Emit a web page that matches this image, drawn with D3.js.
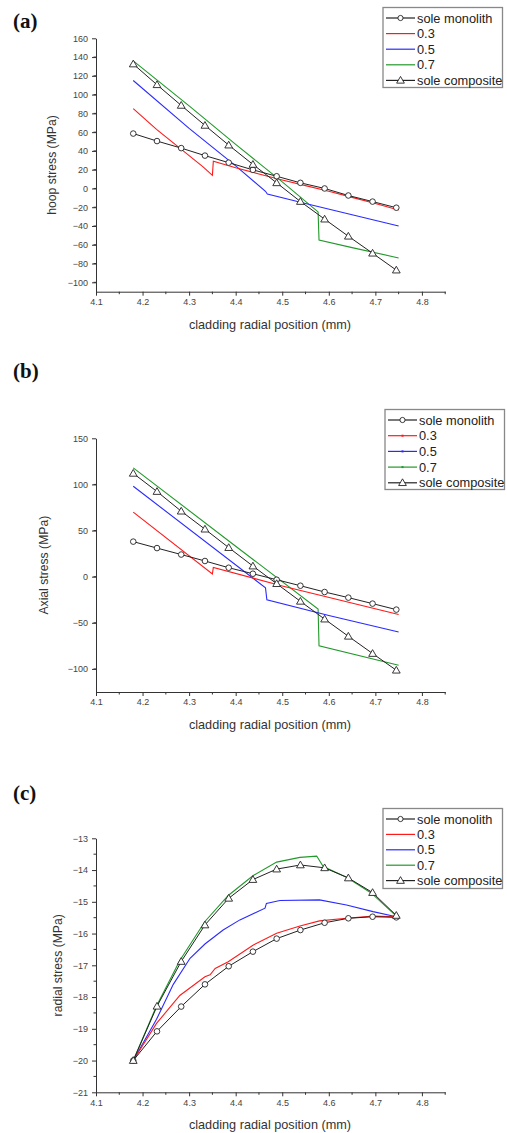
<!DOCTYPE html>
<html>
<head>
<meta charset="utf-8">
<script src="https://cdn.jsdelivr.net/npm/d3@7"></script>
<style>
body { margin: 0; background: #fff; }
svg { display: block; font-family: Arial, "Liberation Sans", sans-serif; }
.tick text { fill: #444; font-size: 9px; font-family: Arial, "Liberation Sans", sans-serif; }
.axis path, .axis line { stroke: #333; }
</style>
</head>
<body>
<svg width="507" height="1133"></svg>
<script>
// marker positions shared by the two sole cases (mm)
var xPos = [4.18, 4.231, 4.283, 4.334, 4.385, 4.437, 4.488, 4.539, 4.591, 4.642, 4.694, 4.745];
var seriesNames = ["sole monolith", "0.3", "0.5", "0.7", "sole composite"];
var xTicks = [4.1, 4.2, 4.3, 4.4, 4.5, 4.6, 4.7, 4.8];

// (a) hoop stress
var hoopMono = [58.5, 50.5, 43, 35, 27.5, 19.8, 13, 6, 0, -7.5, -14, -20.5];
var hoopComp = [132.6, 110.5, 88.5, 67.2, 46.2, 25.6, 6, -13.9, -32.7, -50.9, -69, -87];
var hoop03x = [4.18, 4.23, 4.28, 4.33, 4.35, 4.352, 4.4, 4.45, 4.5, 4.55, 4.6, 4.65, 4.7, 4.75];
var hoop03 = [85, 63, 43, 23, 14, 29, 22, 15.5, 9, 3, -3, -9.5, -16, -23];
var hoop05x = [4.18, 4.3, 4.4, 4.464, 4.468, 4.55, 4.65, 4.75];
var hoop05 = [115, 64, 24, -3, -6, -16, -28, -40];
var hoop07x = [4.18, 4.3, 4.4, 4.5, 4.577, 4.579, 4.65, 4.75];
var hoop07 = [136, 88, 47, 7, -25, -55, -63, -74];
var hoopTicks = [-100, -80, -60, -40, -20, 0, 20, 40, 60, 80, 100, 120, 140, 160];

// (b) axial stress
var axMono = [38, 31, 24, 17, 9.7, 3.2, -3.3, -9.8, -16.6, -22.7, -29.2, -35.7];
var axComp = [112, 92.3, 71, 51.5, 31.5, 11.5, -7.6, -26.7, -46, -64.6, -83.3, -101.4];
var ax03x = [4.18, 4.35, 4.352, 4.5, 4.75];
var ax03 = [70, 3, 10, -10, -41];
var ax05x = [4.18, 4.464, 4.467, 4.6, 4.75];
var ax05 = [98, -12, -25, -42, -60];
var ax07x = [4.18, 4.4, 4.577, 4.579, 4.75];
var ax07 = [118, 33, -35, -75, -96];
var axTicks = [-100, -50, 0, 50, 100, 150];

// (c) radial stress
var radMono = [-20, -19.08, -18.3, -17.6, -17.03, -16.57, -16.16, -15.89, -15.66, -15.52, -15.47, -15.49];
var radComp = [-20, -18.29, -16.88, -15.73, -14.89, -14.3, -13.97, -13.84, -13.93, -14.25, -14.71, -15.43];
var rad03x = [4.18, 4.23, 4.28, 4.334, 4.345, 4.356, 4.384, 4.438, 4.488, 4.538, 4.58, 4.638, 4.695, 4.745];
var rad03 = [-20, -18.83, -17.95, -17.36, -17.3, -17.1, -16.89, -16.36, -15.99, -15.76, -15.6, -15.52, -15.45, -15.47];
var rad05x = [4.18, 4.23, 4.266, 4.302, 4.334, 4.373, 4.409, 4.463, 4.466, 4.495, 4.58, 4.638, 4.695, 4.745];
var rad05 = [-20, -18.7, -17.6, -16.78, -16.33, -15.89, -15.57, -15.2, -15.05, -14.96, -14.94, -15.1, -15.31, -15.47];
var rad07x = [4.18, 4.23, 4.28, 4.334, 4.384, 4.437, 4.488, 4.538, 4.574, 4.588, 4.638, 4.691, 4.745];
var rad07 = [-20, -18.28, -16.85, -15.62, -14.8, -14.18, -13.75, -13.6, -13.56, -13.89, -14.23, -14.72, -15.45];
var radTicks = [-21, -20, -19, -18, -17, -16, -15, -14, -13];

var colors = {"0.3": "#ff1a1a", "0.5": "#2a2aff", "0.7": "#22992a"};

function zip(xs, ys) { return xs.map(function(d, i) { return [d, ys[i]]; }); }

var panels = [
  {tag: "(a)", tagY: 28, top: 38.3, bottom: 291.7, domain: [-110, 160], ticks: hoopTicks, minor: 10,
   ylabel: "hoop stress (MPa)", ylabelX: 52, legend: [383, 7.5, 15.6], dots: false,
   mono: hoopMono, comp: hoopComp,
   lines: [zip(hoop03x, hoop03), zip(hoop05x, hoop05), zip(hoop07x, hoop07)]},
  {tag: "(b)", tagY: 378, top: 438.3, bottom: 692, domain: [-125, 150], ticks: axTicks, minor: 25,
   ylabel: "Axial stress (MPa)", ylabelX: 44, legend: [385, 409.5, 15.7], dots: true,
   mono: axMono, comp: axComp,
   lines: [zip(ax03x, ax03), zip(ax05x, ax05), zip(ax07x, ax07)]},
  {tag: "(c)", tagY: 800, top: 838.3, bottom: 1092.3, domain: [-21, -13], ticks: radTicks, minor: 0.5,
   ylabel: "radial stress (MPa)", ylabelX: 58, legend: [383, 808.5, 15.4], dots: false,
   mono: radMono, comp: radComp,
   lines: [zip(rad03x, rad03), zip(rad05x, rad05), zip(rad07x, rad07)]}
];

var svg = d3.select("svg");
var x = d3.scaleLinear().domain([4.1, 4.85]).range([96, 445.2]);

var triangle = d3.symbol().type(d3.symbolTriangle).size(26);

panels.forEach(function(p) {
  var y = d3.scaleLinear().domain(p.domain).range([p.bottom, p.top]);
  var g = svg.append("g");

  g.append("text").attr("x", 13).attr("y", p.tagY)
    .attr("font-family", "'Liberation Serif', 'Times New Roman', serif")
    .attr("font-weight", "bold").attr("font-size", 21).attr("fill", "#111")
    .text(p.tag);

  // minor ticks
  var xMinor = d3.range(4.15, 4.86, 0.1);
  g.selectAll(".xmin").data(xMinor).enter().append("line")
    .attr("x1", function(d) { return x(d); }).attr("x2", function(d) { return x(d); })
    .attr("y1", p.bottom).attr("y2", p.bottom + 2.5).attr("stroke", "#333");
  var yMinor = d3.range(p.domain[0] + p.minor, p.domain[1], p.minor * 2);
  g.selectAll(".ymin").data(yMinor).enter().append("line")
    .attr("x1", 96 - 2.5).attr("x2", 96)
    .attr("y1", function(d) { return y(d); }).attr("y2", function(d) { return y(d); })
    .attr("stroke", "#333");

  g.append("g").attr("class", "axis").attr("transform", "translate(0," + p.bottom + ")")
    .call(d3.axisBottom(x).tickValues(xTicks).tickSize(4).tickSizeOuter(0).tickPadding(3)
      .tickFormat(d3.format(".1f")));
  g.append("g").attr("class", "axis").attr("transform", "translate(96,0)")
    .call(d3.axisLeft(y).tickValues(p.ticks).tickSize(4).tickSizeOuter(0).tickPadding(4));

  g.append("text").attr("x", 270).attr("y", p.bottom + 37)
    .attr("text-anchor", "middle").attr("font-size", 12.7).attr("fill", "#333")
    .text("cladding radial position (mm)");
  g.append("text")
    .attr("transform", "translate(" + p.ylabelX + "," + ((p.top + p.bottom) / 2) + ") rotate(-90)")
    .attr("text-anchor", "middle").attr("dy", "0.35em").attr("font-size", 12.2).attr("fill", "#333")
    .text(p.ylabel);

  var line = d3.line().x(function(d) { return x(d[0]); }).y(function(d) { return y(d[1]); });

  // coloured cases
  ["0.7", "0.5", "0.3"].forEach(function(k) {
    var idx = ["0.3", "0.5", "0.7"].indexOf(k);
    g.append("path").datum(p.lines[idx]).attr("d", line)
      .attr("fill", "none").attr("stroke", colors[k]).attr("stroke-width", 1.1);
  });

  // sole cases with markers
  var mono = zip(xPos, p.mono), comp = zip(xPos, p.comp);
  g.append("path").datum(comp).attr("d", line).attr("fill", "none").attr("stroke", "#222").attr("stroke-width", 1);
  g.append("path").datum(mono).attr("d", line).attr("fill", "none").attr("stroke", "#222").attr("stroke-width", 1);
  g.selectAll(".mono").data(mono).enter().append("circle")
    .attr("cx", function(d) { return x(d[0]); }).attr("cy", function(d) { return y(d[1]); })
    .attr("r", 2.8).attr("fill", "#fff").attr("stroke", "#222").attr("stroke-width", 0.9);
  g.selectAll(".comp").data(comp).enter().append("path")
    .attr("transform", function(d) { return "translate(" + x(d[0]) + "," + (y(d[1]) + 0.6) + ")"; })
    .attr("d", triangle).attr("fill", "#fff").attr("stroke", "#222").attr("stroke-width", 0.9);

  // legend
  var lx = p.legend[0], ly = p.legend[1], step = p.legend[2];
  var lg = g.append("g");
  lg.append("rect").attr("x", lx).attr("y", ly).attr("width", 119.5).attr("height", 80)
    .attr("fill", "#fff").attr("stroke", "#888").attr("stroke-width", 1.3);
  seriesNames.forEach(function(name, i) {
    var cy = ly + 10.5 + i * step;
    var col = colors[name] || "#222";
    lg.append("line").attr("x1", lx + 3).attr("x2", lx + 32).attr("y1", cy).attr("y2", cy)
      .attr("stroke", col).attr("stroke-width", 1.2);
    if (name === "sole monolith") {
      lg.append("circle").attr("cx", lx + 17.5).attr("cy", cy).attr("r", 2.6)
        .attr("fill", "#fff").attr("stroke", "#222").attr("stroke-width", 0.9);
    } else if (name === "sole composite") {
      lg.append("path").attr("transform", "translate(" + (lx + 17.5) + "," + (cy + 0.5) + ")")
        .attr("d", triangle).attr("fill", "#fff").attr("stroke", "#222").attr("stroke-width", 0.9);
    } else if (p.dots) {
      lg.append("rect").attr("x", lx + 16.5).attr("y", cy - 1).attr("width", 2).attr("height", 2).attr("fill", col);
    }
    lg.append("text").attr("x", lx + 34).attr("y", cy).attr("dy", "0.36em")
      .attr("font-size", 12.8).attr("fill", "#222").text(name);
  });
});
</script>
</body>
</html>
